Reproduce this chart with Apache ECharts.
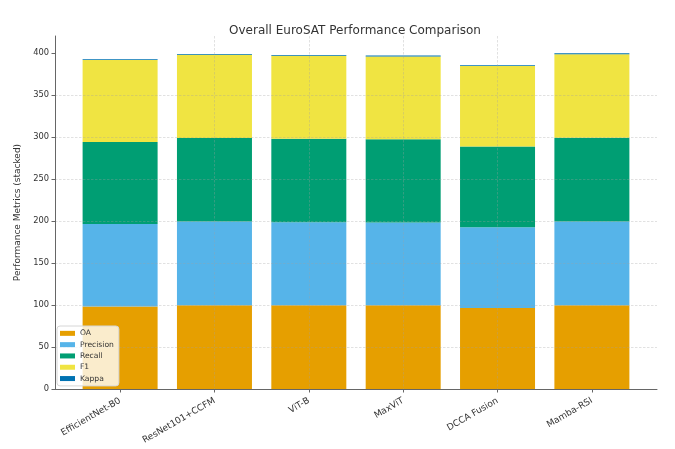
<!DOCTYPE html>
<html><head><meta charset="utf-8">
<script src="https://cdn.jsdelivr.net/npm/echarts@6/dist/echarts.min.js"></script>
<style>html,body{margin:0;padding:0;background:#fff}#c{width:675px;height:449px}</style>
</head><body><div id="c"></div>
<script>
const categories = ['EfficientNet-B0', 'ResNet101+CCFM', 'ViT-B', 'MaxViT', 'DCCA Fusion', 'Mamba-RSI'];
const oa        = [98.1, 99.7, 99.5, 99.5, 96.4, 99.7];
const precision = [98.2, 99.6, 99.0, 98.6, 96.1, 99.6];
const recall    = [97.7, 99.3, 99.1, 99.0, 96.0, 99.7];
const f1        = [97.4, 99.1, 98.8, 98.6, 95.7, 99.4];
const kappa     = [0.98, 0.99, 0.99, 0.99, 0.96, 0.99];
const yTicks    = [0, 50, 100, 150, 200, 250, 300, 350, 400];
const seriesNames = ['OA', 'Precision', 'Recall', 'F1', 'Kappa'];
const seriesColors = ['#E69F00', '#56B4E9', '#009E73', '#F0E442', '#0072B2'];
const seriesValues = [oa, precision, recall, f1, kappa];

const catIdx = categories.map((_, i) => i);
const font = 'DejaVu Sans';
const gridLine = { show: true, showMinLine: false, showMaxLine: false,
  lineStyle: { color: 'rgba(160,160,160,0.4)', width: 0.8, type: [2.5, 1.5] } };

const chart = echarts.init(document.getElementById('c'), null, { renderer: 'canvas' });
chart.setOption({
  animation: false,
  backgroundColor: '#fff',
  textStyle: { fontFamily: font },
  title: {
    text: 'Overall EuroSAT Performance Comparison',
    left: 350, top: 20, textAlign: 'center',
    textStyle: { fontFamily: font, fontSize: 12, fontWeight: 'normal', color: '#333' }
  },
  legend: {
    data: seriesNames, orient: 'vertical', left: 57, top: 326, z: 10,
    icon: 'rect', itemWidth: 15, itemHeight: 5, itemGap: 2.6,
    backgroundColor: 'rgba(255,255,255,0.8)', borderColor: '#d6d6d6', borderWidth: 1,
    borderRadius: 3, padding: [3, 5, 3, 3],
    textStyle: { fontFamily: font, fontSize: 7.6, color: '#333', lineHeight: 8.7 },
    selectedMode: false
  },
  grid: { left: 55, right: 18, top: 36, bottom: 60, containLabel: false },
  xAxis: {
    type: 'value', min: -0.69, max: 5.69, z: 5,
    axisLine: { show: true, onZero: false, lineStyle: { color: '#666', width: 1 } },
    axisTick: { show: true, length: 3.5, customValues: catIdx, lineStyle: { color: '#666' } },
    axisLabel: {
      customValues: catIdx, rotate: 30, margin: 11, fontFamily: font, fontSize: 9, color: '#333',
      formatter: v => (Number.isInteger(v) && categories[v] !== undefined) ? categories[v] : ''
    },
    splitLine: gridLine
  },
  yAxis: {
    type: 'value', min: 0, max: 420, interval: 50, z: 5,
    name: 'Performance Metrics (stacked)', nameLocation: 'middle', nameGap: 28.5, nameRotate: 90,
    nameTextStyle: { fontFamily: font, fontSize: 9, color: '#333' },
    axisLine: { show: true, onZero: false, lineStyle: { color: '#666', width: 1 } },
    axisTick: { show: true, length: 3.5, customValues: yTicks, lineStyle: { color: '#666' } },
    axisLabel: { customValues: yTicks, margin: 6, fontFamily: font, fontSize: 8.3, color: '#333',
      formatter: v => (yTicks.indexOf(v) >= 0 ? String(v) : '') },
    splitLine: gridLine
  },
  series: seriesValues.map((vals, k) => ({
    name: seriesNames[k], type: 'bar', stack: 'total', barWidth: 75, z: 2,
    encode: { x: 1, y: 0 },
    data: vals.map((v, i) => [v, i]),
    itemStyle: { color: seriesColors[k] },
    emphasis: { disabled: true }
  }))
});
</script></body></html>
